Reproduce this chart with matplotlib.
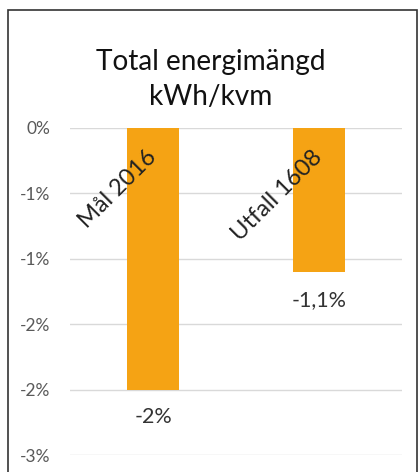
import matplotlib
matplotlib.use('Agg')
import matplotlib.pyplot as plt
from matplotlib.patches import Rectangle

# chart data (percent)
categories = ['Mål 2016', 'Utfall 1608']
values = [-2.0, -1.1]
value_labels = ['-2%', '-1,1%']
yticks = [0, -0.5, -1, -1.5, -2, -2.5]
ytick_labels = ['0%', '-1%', '-1%', '-2%', '-2%', '-3%']

plt.rcParams['font.family'] = ['Lato', 'DejaVu Sans']

W, H = 418, 472
fig = plt.figure(figsize=(W / 100, H / 100), dpi=100)

# outer chart border
fig.patches.append(Rectangle((8 / W, -0.1), (409 / W), 1.1 - 10 / H,
                             transform=fig.transFigure, fill=False,
                             edgecolor='#333333', linewidth=1.2))

ax = fig.add_axes([70 / W, 1 - 455 / H, 332 / W, 327 / H])
x = range(len(categories))
ax.bar(x, values, width=0.31, color='#F5A314', zorder=2)

ax.set_xlim(-0.5, len(categories) - 0.5)
ax.set_ylim(-2.5, 0)
ax.set_yticks(yticks)
ax.set_yticklabels(ytick_labels, fontsize=12.5, color='#595959')
ax.tick_params(axis='y', length=0, pad=14)
ax.set_xticks([])
ax.yaxis.grid(True, color='#D9D9D9', linewidth=1, zorder=0)
for s in ax.spines.values():
    s.set_visible(False)

for i, (cat, v, lab) in enumerate(zip(categories, values, value_labels)):
    ax.text(i + 0.0, -0.2, cat, rotation=45, rotation_mode='anchor',
            ha='right', va='center', fontsize=17, color='#222222', zorder=3)
    ax.annotate(lab, (i, v), xytext=(0, -20), textcoords='offset points',
                ha='center', va='center', fontsize=15.5, color='#333333')

fig.text(0.505, 1 - 62 / H, 'Total energimängd', ha='center', va='center',
         fontsize=20.2, color='#111111')
fig.text(0.505, 1 - 97 / H, 'kWh/kvm', ha='center', va='center',
         fontsize=20.2, color='#111111')

fig.savefig('out.png', dpi=100)
